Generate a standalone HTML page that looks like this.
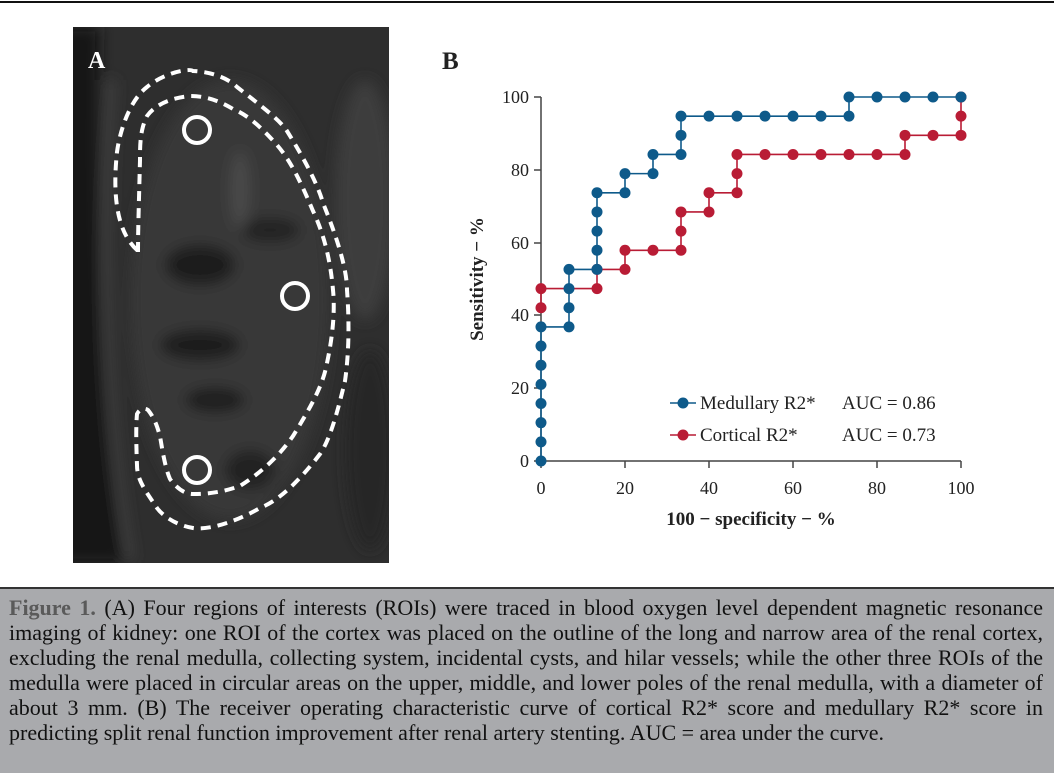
<!DOCTYPE html>
<html><head><meta charset="utf-8"><style>
html,body{margin:0;padding:0;background:#fff;width:1054px;height:773px;overflow:hidden;font-family:"Liberation Serif",serif;}
.cap{position:absolute;left:0;top:587px;width:1054px;height:186px;background:#a9aaad;border-top:2px solid #333;box-sizing:border-box;}
.cap div{position:absolute;left:9px;width:1034px;font-size:22px;color:#111;text-align:justify;text-align-last:justify;white-space:nowrap;}
</style></head><body>
<div style="position:absolute;left:0;top:1px;width:1054px;height:2px;background:#111"></div>
<svg width="1054" height="587" style="position:absolute;left:0;top:0" font-family="Liberation Serif, serif">
<defs>
<filter id="bl"><feGaussianBlur stdDeviation="7"/></filter>
<clipPath id="cp"><rect x="73" y="27" width="316" height="536"/></clipPath>
</defs>
<rect x="73" y="27" width="316" height="536" fill="#2e2e2e"/>
<g filter="url(#bl)" clip-path="url(#cp)">
<path d="M60,27 L100,27 C95,200 100,400 125,563 L60,563 Z" fill="#151515"/>
<path d="M112,80 C100,250 105,420 130,560" stroke="#4a4a4a" stroke-width="6" fill="none"/>
<ellipse cx="230" cy="300" rx="100" ry="220" fill="#383838"/>
<ellipse cx="200" cy="265" rx="35" ry="20" fill="#1a1a1a"/>
<ellipse cx="200" cy="345" rx="40" ry="15" fill="#1a1a1a"/>
<ellipse cx="215" cy="400" rx="30" ry="12" fill="#1e1e1e"/>
<ellipse cx="270" cy="230" rx="30" ry="12" fill="#222"/>
<ellipse cx="240" cy="190" rx="10" ry="40" fill="#484848"/>
<ellipse cx="250" cy="470" rx="25" ry="20" fill="#222"/>
<ellipse cx="365" cy="200" rx="30" ry="120" fill="#3c3c3c"/>
<ellipse cx="370" cy="450" rx="25" ry="100" fill="#262626"/>
</g>
<text x="88" y="68" font-size="24" font-weight="bold" fill="#fff">A</text>
<path d="M137,250 C115,230 113,190 117,152 C120,130 130,100 147,87 C165,72 190,68 193,71 C215,72 230,80 237,87 C260,105 280,120 287,131 C305,160 318,185 323,203 C338,240 347,270 347,290 C350,330 348,360 345,381 C338,410 330,440 320,454 C300,480 280,500 260,508 C230,525 205,530 193,528 C175,525 162,515 157,508 C145,490 137,480 137,465 C136,440 136,425 137,414 C140,408 145,408 148,410 C156,420 158,430 160,436 C163,455 166,470 170,479 C178,490 186,494 193,494 C215,494 228,490 240,486 C262,472 280,455 293,436 C312,405 323,385 327,363 C333,335 335,310 333,290 C330,255 322,230 313,211 C300,180 290,160 277,145 C262,128 248,115 233,109 C218,100 205,96 190,96 C170,98 155,105 147,116 C140,130 140,145 140,160 C139,200 138,230 138,250 Z" fill="none" stroke="#fff" stroke-width="4" stroke-dasharray="10 7"/>
<circle cx="197" cy="130" r="13" fill="none" stroke="#fff" stroke-width="4"/>
<circle cx="295" cy="296" r="13" fill="none" stroke="#fff" stroke-width="4"/>
<circle cx="197" cy="470" r="13" fill="none" stroke="#fff" stroke-width="4"/>

<text x="442" y="69" font-size="25" font-weight="bold" fill="#222">B</text>
<g stroke="#444" stroke-width="1.5">
<line x1="541" y1="97" x2="541" y2="461"/><line x1="541" y1="461" x2="961" y2="461"/>
<line x1="534" y1="97" x2="541" y2="97"/><line x1="534" y1="170" x2="541" y2="170"/><line x1="534" y1="243" x2="541" y2="243"/><line x1="534" y1="315" x2="541" y2="315"/><line x1="534" y1="388" x2="541" y2="388"/><line x1="534" y1="461" x2="541" y2="461"/>
<line x1="541" y1="461" x2="541" y2="468"/><line x1="625" y1="461" x2="625" y2="468"/><line x1="709" y1="461" x2="709" y2="468"/><line x1="793" y1="461" x2="793" y2="468"/><line x1="877" y1="461" x2="877" y2="468"/><line x1="961" y1="461" x2="961" y2="468"/>
</g>
<g font-size="18" fill="#222" text-anchor="end">
<text x="529" y="103">100</text><text x="529" y="176">80</text><text x="529" y="249">60</text><text x="529" y="321">40</text><text x="529" y="394">20</text><text x="529" y="467">0</text>
</g>
<g font-size="18" fill="#222" text-anchor="middle">
<text x="541" y="494">0</text><text x="625" y="494">20</text><text x="709" y="494">40</text><text x="793" y="494">60</text><text x="877" y="494">80</text><text x="961" y="494">100</text>
<text x="751" y="525" font-weight="bold" font-size="19">100 − specificity − %</text>
<text transform="translate(483,279) rotate(-90)" font-weight="bold" font-size="19">Sensitivity − %</text>
</g>
<g id="plot"></g>
<g font-size="19" fill="#222">
<line x1="670" y1="403" x2="696" y2="403" stroke="#0e5a8a" stroke-width="1.6"/><circle cx="683" cy="403" r="5.5" fill="#0e5a8a"/>
<text x="700" y="409">Medullary R2*</text><text x="842" y="409">AUC = 0.86</text>
<line x1="670" y1="435" x2="696" y2="435" stroke="#b91c35" stroke-width="1.6"/><circle cx="683" cy="435" r="5.5" fill="#b91c35"/>
<text x="700" y="441">Cortical R2*</text><text x="842" y="441">AUC = 0.73</text>
</g>
</svg>
<div class="cap">
<div style="top:6px"><span style="color:#5a5a5a;font-weight:bold">Figure 1.</span> (A) Four regions of interests (ROIs) were traced in blood oxygen level dependent magnetic resonance</div>
<div style="top:31px">imaging of kidney: one ROI of the cortex was placed on the outline of the long and narrow area of the renal cortex,</div>
<div style="top:56px">excluding the renal medulla, collecting system, incidental cysts, and hilar vessels; while the other three ROIs of the</div>
<div style="top:81px">medulla were placed in circular areas on the upper, middle, and lower poles of the renal medulla, with a diameter of</div>
<div style="top:106px">about 3 mm. (B) The receiver operating characteristic curve of cortical R2* score and medullary R2* score in</div>
<div style="top:131px;text-align-last:left">predicting split renal function improvement after renal artery stenting. AUC = area under the curve.</div>
</div>
<script>
(function(){
var ns="http://www.w3.org/2000/svg",g=document.getElementById("plot");
function X(i){return 541+i*420/15}function Y(j){return 461-j*364/19}
function draw(pts,c){var d="";pts.forEach(function(p,k){d+=(k?"L":"M")+X(p[0])+","+Y(p[1])});
var pa=document.createElementNS(ns,"path");pa.setAttribute("d",d);pa.setAttribute("fill","none");pa.setAttribute("stroke",c);pa.setAttribute("stroke-width","1.6");g.appendChild(pa);
pts.forEach(function(p){var ci=document.createElementNS(ns,"circle");ci.setAttribute("cx",X(p[0]));ci.setAttribute("cy",Y(p[1]));ci.setAttribute("r","5.5");ci.setAttribute("fill",c);g.appendChild(ci);});}
draw([[0,8],[0,9],[2,9],[2,10],[3,10],[3,11],[4,11],[5,11],[5,12],[5,13],[6,13],[6,14],[7,14],[7,15],[7,16],[8,16],[9,16],[10,16],[11,16],[12,16],[13,16],[13,17],[14,17],[15,17],[15,18],[15,19]],"#b91c35");
draw([[0,0],[0,1],[0,2],[0,3],[0,4],[0,5],[0,6],[0,7],[1,7],[1,8],[1,9],[1,10],[2,10],[2,11],[2,12],[2,13],[2,14],[3,14],[3,15],[4,15],[4,16],[5,16],[5,17],[5,18],[6,18],[7,18],[8,18],[9,18],[10,18],[11,18],[11,19],[12,19],[13,19],[14,19],[15,19]],"#0e5a8a");
})();
</script>
</body></html>
